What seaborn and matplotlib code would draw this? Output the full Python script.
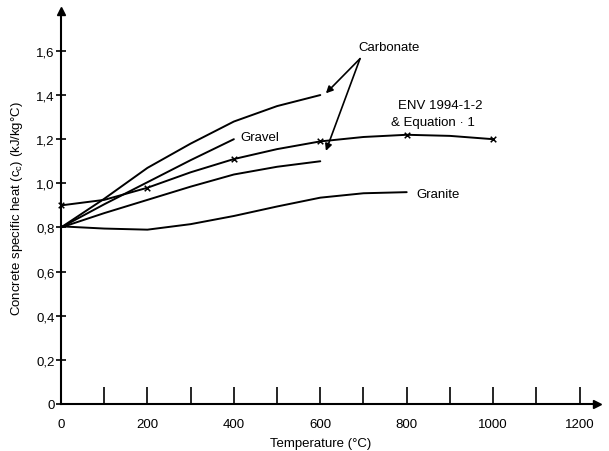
import numpy as np
import pandas as pd
import matplotlib
matplotlib.use('Agg')
import matplotlib.pyplot as plt
import seaborn as sns

sns.set_style('white')
plt.rcParams['font.family'] = ['Liberation Sans', 'DejaVu Sans']
plt.rcParams['mathtext.default'] = 'regular'
plt.rcParams['text.color'] = 'k'
plt.rcParams['axes.labelcolor'] = 'k'

# values (temperature in C, specific heat in kJ/kgC)
carb_hi_t = [0, 100, 200, 300, 400, 500, 600]
carb_hi_c = [0.80, 0.93, 1.07, 1.18, 1.28, 1.35, 1.40]
gravel_t = [0, 100, 200, 300, 400]
gravel_c = [0.80, 0.905, 1.005, 1.105, 1.20]
carb_lo_t = [0, 100, 200, 300, 400, 500, 600]
carb_lo_c = [0.80, 0.865, 0.925, 0.985, 1.04, 1.075, 1.10]
granite_t = [0, 100, 200, 300, 400, 500, 600, 700, 800]
granite_c = [0.805, 0.795, 0.79, 0.815, 0.852, 0.895, 0.935, 0.955, 0.96]
env_t = [0, 100, 200, 300, 400, 500, 600, 700, 800, 900, 1000]
env_c = [0.90, 0.925, 0.98, 1.05, 1.11, 1.155, 1.19, 1.21, 1.22, 1.215, 1.20]
env_marks = [0, 200, 400, 600, 800, 1000]

xticks = list(range(0, 1201, 100))
xticklabels = ['0', '', '200', '', '400', '', '600', '', '800', '', '1000', '', '1200']
yticks = [0, 0.2, 0.4, 0.6, 0.8, 1.0, 1.2, 1.4, 1.6]
yticklabels = ['0', '0,2', '0,4', '0,6', '0,8', '1,0', '1,2', '1,4', '1,6']

curves = {
    'carbonate_hi': (carb_hi_t, carb_hi_c),
    'gravel': (gravel_t, gravel_c),
    'carbonate_lo': (carb_lo_t, carb_lo_c),
    'granite': (granite_t, granite_c),
    'env': (env_t, env_c),
}
df = pd.concat([pd.DataFrame({'T': t, 'c': c, 'curve': k}) for k, (t, c) in curves.items()],
               ignore_index=True)
env_df = df[(df.curve == 'env') & df['T'].isin(env_marks)]

fig = plt.figure(figsize=(6.09, 4.52), dpi=100)
ax = fig.add_axes([0.1002, 0.104, 0.8798, 0.869])

sns.lineplot(data=df, x='T', y='c', hue='curve', palette=['k'] * 5, legend=False,
             estimator=None, sort=False, lw=1.4, ax=ax)
sns.scatterplot(data=env_df, x='T', y='c', marker='x', s=16, color='k', linewidth=1.1,
                ax=ax, clip_on=False, zorder=5)

ax.set_xlim(0, 1240)
ax.set_ylim(0, 1.78)
ax.set_xticks(xticks)
ax.set_xticklabels(xticklabels, fontsize=9.5)
ax.set_yticks(yticks)
ax.set_yticklabels(yticklabels, fontsize=9.5)
ax.tick_params(axis='x', bottom=True, direction='in', length=12, width=1.2, pad=10,
               color='k', labelcolor='k')
ax.tick_params(axis='y', left=True, direction='inout', length=7, width=1.2, pad=1,
               color='k', labelcolor='k')

for s in ['top', 'right']:
    ax.spines[s].set_visible(False)
for s in ['left', 'bottom']:
    ax.spines[s].set_linewidth(1.5)
    ax.spines[s].set_color('k')
ax.plot(1, 0, '>k', ms=6, transform=ax.transAxes, clip_on=False)
ax.plot(0, 1, '^k', ms=6, transform=ax.transAxes, clip_on=False)

ax.set_xlabel('Temperature (°C)', fontsize=9.5)
ax.xaxis.set_label_coords(0.485, -0.085)
ax.set_ylabel('Concrete specific heat (c$_c$) (kJ/kg°C)', fontsize=9.5, labelpad=8)

# annotations
ax.text(759, 1.62, 'Carbonate', fontsize=9.5, ha='center', va='center')
arrow = dict(arrowstyle='-|>', color='k', lw=1.2, mutation_scale=10, shrinkA=0, shrinkB=0)
ax.annotate('', xy=(613, 1.408), xytext=(692, 1.565), arrowprops=arrow)
ax.annotate('', xy=(613, 1.147), xytext=(692, 1.565), arrowprops=arrow)
ax.text(415, 1.212, 'Gravel', fontsize=9.5, ha='left', va='center')
ax.text(877, 1.354, 'ENV 1994-1-2', fontsize=9.5, ha='center', va='center')
ax.text(860, 1.277, '& Equation · 1', fontsize=9.5, ha='center', va='center')
ax.text(823, 0.951, 'Granite', fontsize=9.5, ha='left', va='center')

plt.savefig('out.png', dpi=100)
